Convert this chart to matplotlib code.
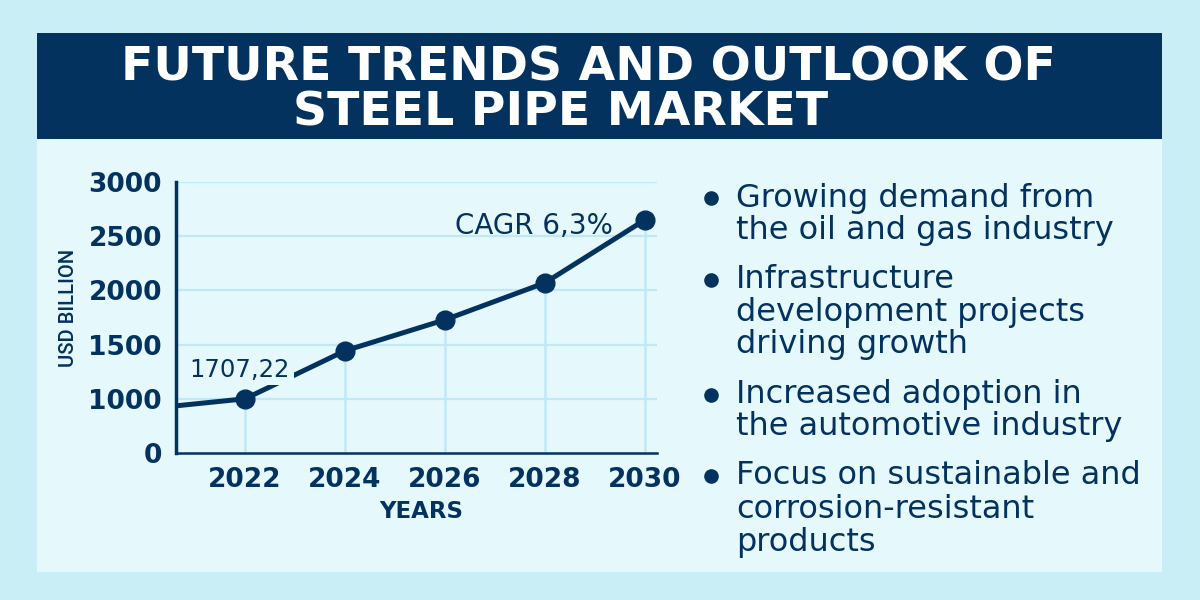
import numpy as np
import matplotlib
matplotlib.use("Agg")
import matplotlib.pyplot as plt

years = [2020.62, 2022, 2024, 2026, 2028, 2030]
values = [870, 1000, 1443, 1729, 2070, 2651]
marker_years = years[1:]
marker_values = values[1:]
x_ticks = [2022, 2024, 2026, 2028, 2030]
y_ticks = [0, 1000, 1500, 2000, 2500, 3000]
title_lines = ["FUTURE TRENDS AND OUTLOOK OF", "STEEL PIPE MARKET"]
bullets = [
    ["Growing demand from", "the oil and gas industry"],
    ["Infrastructure", "development projects", "driving growth"],
    ["Increased adoption in", "the automotive industry"],
    ["Focus on sustainable and", "corrosion-resistant", "products"],
]

navy = "#03325f"
outer = "#c9eef6"
inner = "#e5f8fc"
grid = "#bfeaf5"
W, H = 1200, 600

fig = plt.figure(figsize=(12, 6), dpi=100, facecolor=outer)

# background layer in pixel coords
bg = fig.add_axes([0, 0, 1, 1], zorder=0)
bg.set_xlim(0, W)
bg.set_ylim(H, 0)
bg.axis("off")
bg.add_patch(plt.Rectangle((37, 33), 1125, 539, fc=inner, ec="none"))
bg.add_patch(plt.Rectangle((37, 33), 1125, 106, fc=navy, ec="none"))

bg.text(588, 68, title_lines[0], color="white", fontsize=34, fontweight="bold", ha="center", va="center")
bg.text(561, 113, title_lines[1], color="white", fontsize=34, fontweight="bold", ha="center", va="center")

# bullets
bullet_y = [198, 230, 280, 313, 345, 395, 427, 476, 509, 542]
i = 0
for group in bullets:
    bg.plot([711], [bullet_y[i]], "o", color=navy, ms=9.5)
    for line in group:
        bg.text(736, bullet_y[i], line, color=navy, fontsize=23, va="center", ha="left")
        i += 1

bg.text(68, 308, "USD BILLION", color=navy, fontsize=14.5, family="Roboto", fontweight="medium",
        rotation=90, ha="center", va="center")
bg.text(421, 511, "YEARS", color=navy, fontsize=16.5, fontweight="bold", ha="center", va="center")

# chart, y axis has equal steps though 0-1000 is twice the value range
ax = fig.add_axes([176 / W, 1 - 453 / H, (657 - 176) / W, (453 - 182) / H], zorder=1)
ax.patch.set_alpha(0)
pos = np.arange(len(y_ticks))
ax.set_yscale("function", functions=(lambda v: np.interp(v, y_ticks, pos),
                                     lambda p: np.interp(p, pos, y_ticks)))
ax.set_xlim(2020.62, 2030.24)
ax.set_ylim(0, 3000)
ax.set_yticks(y_ticks)
ax.set_xticks(x_ticks)
ax.minorticks_off()
ax.tick_params(length=0, labelsize=19, labelcolor=navy, pad=10)
for lab in ax.get_xticklabels() + ax.get_yticklabels():
    lab.set_fontweight("bold")
ax.tick_params(axis="x", pad=10)
ax.hlines(y_ticks[1:], 2020.62, 2030.24, color=grid, lw=1.6, zorder=1)
ax.vlines(marker_years, 0, marker_values, color=grid, lw=1.8, zorder=1)
for s in ["top", "right"]:
    ax.spines[s].set_visible(False)
ax.spines["left"].set_color(navy)
ax.spines["left"].set_linewidth(2.5)
ax.spines["bottom"].set_color(navy)
ax.spines["bottom"].set_linewidth(1.8)

ax.plot(years, values, color=navy, lw=3.6, zorder=3, solid_capstyle="butt", clip_on=False)
ax.plot(marker_years, marker_values, "o", color=navy, ms=13.5, zorder=4, clip_on=False)

ax.text(2021.9, 1265, "1707,22", color=navy, fontsize=17.5, va="center", ha="center", zorder=5,
        bbox=dict(fc=inner, ec="none", pad=2.5))
ax.text(2029.36, 2590, "CAGR 6,3%", color=navy, fontsize=20, va="center", ha="right", zorder=5)

fig.savefig("out.png", dpi=100, facecolor=outer)
